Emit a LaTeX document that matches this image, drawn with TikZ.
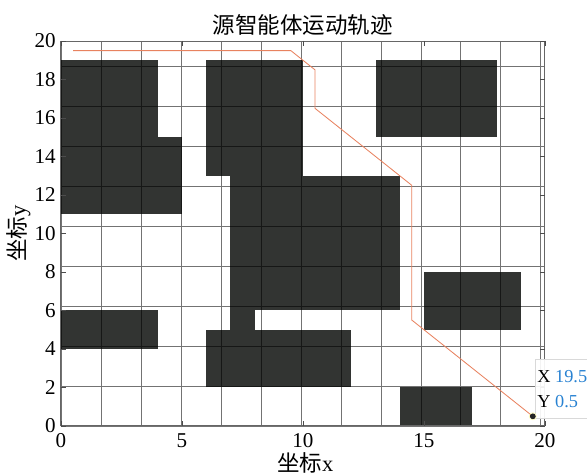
\documentclass[tikz,border=0pt]{standalone}
\usepackage{fontspec}
\setmainfont{Liberation Serif}
\newfontfamily\cjk{Noto Sans CJK SC}
\definecolor{obst}{RGB}{50,52,50}
\definecolor{pathc}{RGB}{232,130,95}
\definecolor{tipblue}{RGB}{40,130,210}
\tikzset{
  obstacle/.style={fill=obst, draw=none},
  ticklabel/.style={font=\fontsize{15}{17}\selectfont, inner sep=1pt},
  cnlabel/.style={font=\fontsize{16}{18}\selectfont},
  tiptext/.style={font=\fontsize{13}{15}\selectfont, inner sep=0pt, anchor=west},
}
\begin{document}
\begin{tikzpicture}[x=0.605cm, y=0.48125cm]
    \useasboundingbox (-2.52,-2.545) rectangle (21.74,22.13);

    % Obstacles
    \foreach \xa/\ya/\xb/\yb in {0/11/4/19, 4/11/5/15, 6/13/10/19, 7/6/14/13, 7/5/8/6,
        6/2/12/5, 13/15/18/19, 15/5/19/8, 0/4/4/6, 14/0/17/2}
        \fill[obstacle] (\xa,\ya) rectangle (\xb,\yb);

    % Grid and box
    \draw[black, opacity=0.55, line width=0.6pt] (0,0) grid (20,20);
    \draw[black!60, line width=0.7pt] (0,0) rectangle (20,20);

    % Ticks
    \foreach \x in {0,5,...,20} {
        \draw[black!70] (\x,0) -- (\x,0.25);
        \draw[black!70] (\x,20) -- (\x,19.75);
        \node[ticklabel, anchor=north] (xt\x) at (\x,-0.3) {\x};
    }
    \foreach \y in {0,2,...,20} {
        \draw[black!70] (0,\y) -- (0.2,\y);
        \draw[black!70] (20,\y) -- (19.8,\y);
        \node[ticklabel, anchor=east] (yt\y) at (-0.15,\y) {\y};
    }

    % Labels
    \node[cnlabel] (title) at (10,20.85) {{\cjk 源智能体运动轨迹}};
    \node[cnlabel] (xlab) at (10.1,-1.9) {{\cjk 坐标}x};
    \node[cnlabel, rotate=90] (ylab) at (-1.75,10) {{\cjk 坐标}y};

    % Trajectory
    \draw[pathc, line width=0.6pt] (0.5,19.5) -- (9.5,19.5) -- (10.5,18.5) -- (10.5,16.5)
        -- (14.5,12.5) -- (14.5,5.5) -- (19.5,0.5);

    % Data tip
    \coordinate (tip) at (19.5,0.5);
    \draw[black!15, fill=white, fill opacity=0.92] (19.6,0.42) rectangle (21.9,3.48);
    \node[tiptext] (tipx) at (19.68,2.55) {X \textcolor{tipblue}{19.5}};
    \node[tiptext] (tipy) at (19.68,1.25) {Y \textcolor{tipblue}{0.5}};
    \fill[black!85] (tip) circle (0.075cm);
    \draw[yellow!30, line width=0.4pt] (tip) circle (0.09cm);
\end{tikzpicture}
\end{document}
